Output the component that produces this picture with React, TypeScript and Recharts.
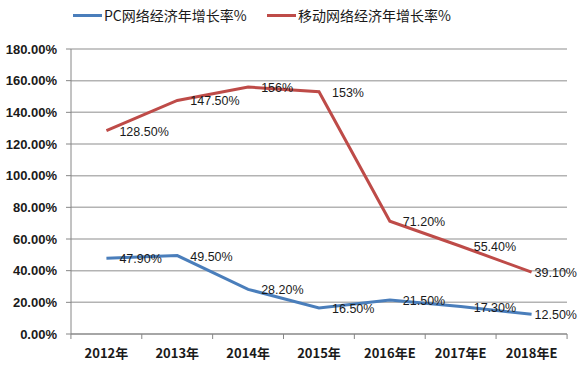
import React from 'react';
import { LineChart, Line, XAxis, YAxis, CartesianGrid, LabelList } from 'recharts';

const categories = ['2012年', '2013年', '2014年', '2015年', '2016年E', '2017年E', '2018年E'];
const pcGrowth = [47.9, 49.5, 28.2, 16.5, 21.5, 17.3, 12.5];
const mobileGrowth = [128.5, 147.5, 156, 153, 71.2, 55.4, 39.1];
const yTicks = [0, 20, 40, 60, 80, 100, 120, 140, 160, 180];
const seriesNames = ['PC网络经济年增长率%', '移动网络经济年增长率%'];
const seriesColors = ['#4A7EBB', '#BE4B48'];

const data = categories.map((c, i) => ({ name: c, pc: pcGrowth[i], mobile: mobileGrowth[i] }));

const fmt = (v: number) => (Number.isInteger(v) ? `${v}%` : `${v.toFixed(2)}%`);
const FONT = '"Liberation Sans", Arial, sans-serif';
const CJK = '"Noto Sans CJK SC", "Liberation Sans", sans-serif';
const last = categories.length - 1;

const makeLabel = (values: number[]) => (props: any) => {
  const { x, y, index } = props;
  const dx = index === last ? 3 : 13;
  return (
    <text x={x + dx} y={y + 5} fontSize={12.5} fontFamily={FONT} fill="#1a1a1a" textAnchor="start">
      {fmt(values[index])}
    </text>
  );
};

const XTick = (props: any) => {
  const { x, y, payload, index } = props;
  const half = 35.5;
  return (
    <g>
      <line x1={x - half} x2={x - half} y1={y} y2={y + 5} stroke="#868686" />
      {index === last && <line x1={x + half} x2={x + half} y1={y} y2={y + 5} stroke="#868686" />}
      <text x={x} y={y + 24} textAnchor="middle" fontSize={13} fontWeight="bold" fontFamily={CJK} fill="#1a1a1a">
        {payload.value}
      </text>
    </g>
  );
};

export default function App() {
  return (
    <div style={{ position: 'absolute', left: 0, top: 0, width: 584, height: 366, background: '#fff' }}>
      <div style={{ position: 'absolute', left: 0, top: 4, width: 584, height: 24, fontFamily: CJK, fontSize: 14, color: '#1a1a1a' }}>
        {seriesNames.map((n, i) => (
          <div key={n} style={{ position: 'absolute', left: i === 0 ? 73 : 267, top: 0, display: 'flex', alignItems: 'center', height: 22 }}>
            <div style={{ width: 29, height: 3, background: seriesColors[i], marginRight: 2 }} />
            <span>{n}</span>
          </div>
        ))}
      </div>
      <LineChart width={584} height={366} data={data} margin={{ top: 49, right: 17, bottom: 0, left: 0 }}>
        <CartesianGrid vertical={false} stroke="#B3B3B3" strokeWidth={1.5} />
        <XAxis
          dataKey="name"
          scale="band"
          height={32}
          tickLine={false}
          tickSize={0}
          tickMargin={0}
          axisLine={{ stroke: '#868686' }}
          tick={<XTick />}
          interval={0}
        />
        <YAxis
          width={71}
          domain={[0, 180]}
          ticks={yTicks}
          tickFormatter={(v: number) => `${v.toFixed(2)}%`}
          tickSize={5}
          tickMargin={9}
          tickLine={{ stroke: '#868686' }}
          axisLine={{ stroke: '#868686' }}
          tick={{ fontSize: 13, fontWeight: 'bold', fontFamily: FONT, fill: '#1a1a1a' }}
          interval={0}
        />
        <Line type="linear" dataKey="pc" stroke={seriesColors[0]} strokeWidth={3} dot={false} isAnimationActive={false}>
          <LabelList dataKey="pc" content={makeLabel(pcGrowth)} />
        </Line>
        <Line type="linear" dataKey="mobile" stroke={seriesColors[1]} strokeWidth={3} dot={false} isAnimationActive={false}>
          <LabelList dataKey="mobile" content={makeLabel(mobileGrowth)} />
        </Line>
      </LineChart>
    </div>
  );
}
